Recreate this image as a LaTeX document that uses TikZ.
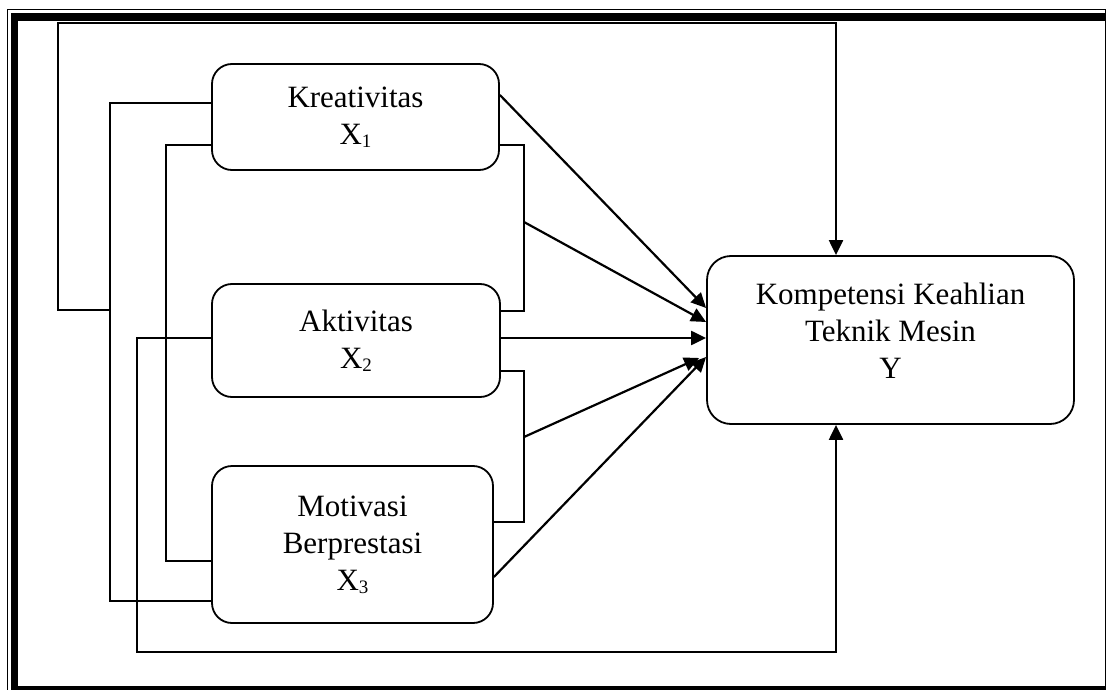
\documentclass[tikz,border=0pt]{standalone}
\usepackage{fontspec}
\setmainfont{Liberation Serif}
\usetikzlibrary{calc,arrows.meta}
\newcommand{\subx}[1]{\raisebox{-3pt}{\fontsize{19}{19}\selectfont #1}}
\begin{document}
\begin{tikzpicture}[x=1pt,y=-1pt,
 box/.style={draw, line width=1.8pt, rounded corners=20pt, inner sep=0pt, align=center, font=\fontsize{31}{37}\selectfont},
 lbl/.style={inner sep=0pt, align=center, font=\fontsize{31}{37}\selectfont},
 wire/.style={line width=1.6pt},
 arr/.style={line width=2.2pt, -{Triangle[length=15pt,width=14pt]}},
]
\useasboundingbox (0,0) rectangle (1106,690);
\begin{scope}
\clip (0,0) rectangle (1106,690);
\draw[line width=1.4pt] (7.5,9.8) rectangle (1105.5,720);
\draw[line width=7.5pt] (14.5,17) rectangle (1130,690);
\end{scope}

\node[box, minimum width=287pt, minimum height=106pt] (K) at (355.5,117) {Kreativitas\\X\subx{1}};
\node[box, minimum width=288pt, minimum height=113pt] (A) at (356,340.5) {Aktivitas\\X\subx{2}};
\node[box, minimum width=281pt, minimum height=157pt] (M) at (352.5,544.5) {Motivasi\\Berprestasi\\X\subx{3}};
\node[box, minimum width=367pt, minimum height=168pt, rounded corners=24pt] (Y) at (890.5,340) {};
\node[lbl] (Ylab) at ($(Y.center)+(0,-9)$) {Kompetensi Keahlian\\Teknik Mesin\\Y};

% left-side coordinates
\coordinate (k1) at ($(K.west)+(0,-14)$);
\coordinate (k2) at ($(K.west)+(0,28)$);
\coordinate (m1) at ($(M.west)+(0,16.5)$);
\coordinate (m2) at ($(M.west)+(0,56.5)$);
\coordinate (a1) at ($(A.west)+(0,-2.5)$);
\coordinate (bx1) at (110,310);
\coordinate (bx2) at (166,0);
\coordinate (bx3) at (137,652);
\coordinate (top) at (58,23);
\coordinate (yt) at ($(Y.north)+(-54.5,0)$);
\coordinate (yb) at ($(Y.south)+(-54.5,0)$);

\draw[wire] (k1) -| (bx1) |- (m2);
\draw[arr] (bx1) -| (top) -| (yt);
\draw[wire] (k2) -| (bx2 |- m1) -- (m1);
\draw[arr] (a1) -| (bx3) -| (yb);

% right-side coordinates
\coordinate (k3) at ($(K.east)+(0,28)$);
\coordinate (a2) at ($(A.east)+(0,-29.5)$);
\coordinate (a3) at ($(A.east)+(0,30.5)$);
\coordinate (m3) at ($(M.east)+(0,-22.5)$);
\coordinate (rb) at (524,0);
\coordinate (r1) at (524,222);
\coordinate (r2) at (524,437);
\coordinate (k4) at ($(K.east)+(0,-22)$);
\coordinate (a4) at ($(A.east)+(0,-2.5)$);
\coordinate (m4) at ($(M.east)+(0,32.5)$);
\coordinate (y1) at ($(Y.west)+(0,-32)$);
\coordinate (y2) at ($(Y.west)+(0,-18)$);
\coordinate (y3) at ($(Y.west)+(0,-2)$);
\coordinate (y4) at ($(Y.west)+(-7,18)$);
\coordinate (y5) at ($(Y.west)+(0,17)$);

\draw[wire] (k3) -| (rb |- a2) -- (a2);
\draw[wire] (a3) -| (rb |- m3) -- (m3);
\draw[arr] (k4) -- (y1);
\draw[arr] (r1) -- (y2);
\draw[arr] (a4) -- (y3);
\draw[arr] (r2) -- (y4);
\draw[arr] (m4) -- (y5);
\end{tikzpicture}
\end{document}
